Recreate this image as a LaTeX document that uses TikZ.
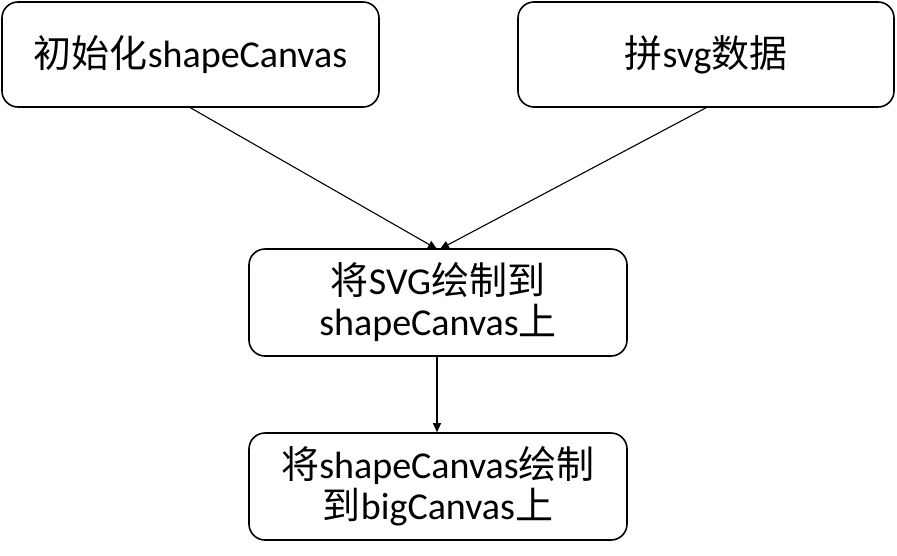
\documentclass[tikz,border=0pt]{standalone}
\usepackage{fontspec}
\setmainfont{Carlito}
\newfontfamily\cjk{Noto Sans CJK SC}
\usetikzlibrary{arrows.meta}
\begin{document}
\begin{tikzpicture}[x=1pt,y=-1pt,
  box/.style={draw,line width=1.6pt,rounded corners=16pt,inner sep=0pt,
    font=\fontsize{38}{41}\selectfont,align=center},
  conn/.style={line width=1.1pt,-{Triangle[length=9pt,width=8pt]}}]
\useasboundingbox (0,0) rectangle (897,555);
\node[box,minimum width=377pt,minimum height=105pt] (init) at (190.5,54.5) {{\cjk 初始化}shapeCanvas};
\node[box,minimum width=376pt,minimum height=105pt] (svg) at (706,54.5) {{\cjk 拼}svg{\cjk 数据}};
\node[box,minimum width=378pt,minimum height=107pt] (draw) at (438,302.5) {{\cjk 将}SVG{\cjk 绘制到}\\shapeCanvas{\cjk 上}};
\node[box,minimum width=378pt,minimum height=107pt] (big) at (438,486.5) {{\cjk 将}shapeCanvas{\cjk 绘制}\\{\cjk 到}bigCanvas{\cjk 上}};
\coordinate (t1) at (437,249);
\coordinate (t2) at (440,249);
\draw[conn] (init.south) -- (t1);
\draw[conn] (svg.south) -- (t2);
\draw[conn] (draw.south -| 437,0) -- (big.north -| 437,0);
\end{tikzpicture}
\end{document}
